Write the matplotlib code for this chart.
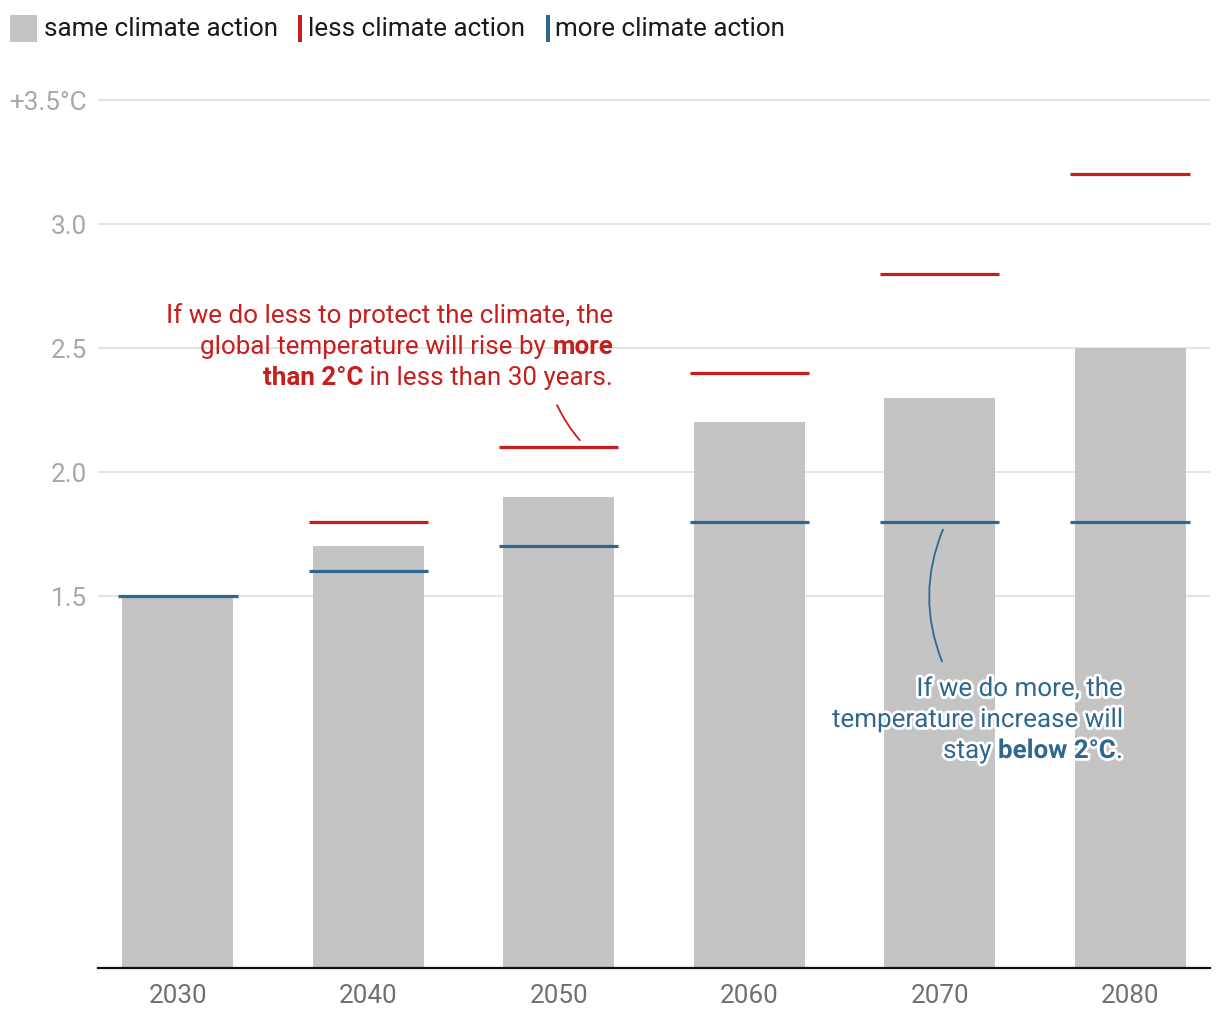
import matplotlib
matplotlib.use('Agg')
import matplotlib.pyplot as plt
import matplotlib.patheffects as pe
from matplotlib.patches import Rectangle, FancyArrowPatch
from matplotlib.transforms import IdentityTransform
import numpy as np

plt.rcParams['font.family'] = ['Roboto', 'DejaVu Sans']

years = ['2030', '2040', '2050', '2060', '2070', '2080']
same_action = [1.5, 1.7, 1.9, 2.2, 2.3, 2.5]
less_action = [np.nan, 1.8, 2.1, 2.4, 2.8, 3.2]
more_action = [1.5, 1.6, 1.7, 1.8, 1.8, 1.8]
y_ticks = [1.5, 2.0, 2.5, 3.0, 3.5]
y_tick_labels = ['1.5', '2.0', '2.5', '3.0', '+3.5°C']

GREY = '#c4c4c4'
RED = '#c71e1d'
BLUE = '#2f688f'
FS = 18.7

W, H = 1220, 1020
fig = plt.figure(figsize=(W / 100, H / 100), dpi=100)

# axes placed in pixel terms: y=0 at 969px, y=3.55 at ~89px
ax = fig.add_axes([98 / W, (H - 969) / H, (1210 - 98) / W, (969 - 88.6) / H])
x = np.arange(len(years))

ax.bar(x, same_action, width=0.583, color=GREY, zorder=2)
ax.hlines(less_action, x - 0.313, x + 0.313, color=RED, linewidth=2.3, zorder=3)
ax.hlines(more_action, x - 0.313, x + 0.313, color=BLUE, linewidth=2.3, zorder=3)

ax.set_xlim(-0.42, len(years) - 1 + 0.42)
ax.set_ylim(0, 3.55)
ax.set_xticks(x)
ax.set_xticklabels(years, fontsize=FS, color='#707070')
ax.set_yticks(y_ticks)
ax.set_yticklabels(y_tick_labels, fontsize=FS, color='#a8a8a8')
ax.tick_params(axis='both', length=0)
ax.tick_params(axis='x', pad=11)
ax.tick_params(axis='y', pad=8)
ax.yaxis.grid(True, color='#e2e2e2', linewidth=1.3, zorder=0)
ax.set_axisbelow(True)
for side in ['top', 'right', 'left']:
    ax.spines[side].set_visible(False)
ax.spines['bottom'].set_color('#111111')
ax.spines['bottom'].set_linewidth(1.6)
ax.spines['bottom'].set_zorder(4)

fig.canvas.draw()
renderer = fig.canvas.get_renderer()


def rich_line(xd, yd, pieces, color, size=FS, dy_px=0, effects=None):
    # right-aligned line made of (text, bold) pieces, anchored at data point
    px, py = ax.transData.transform((xd, yd))
    py -= dy_px
    for s, bold in reversed(pieces):
        t = fig.text(px, py, s, transform=IdentityTransform(), ha='right', va='center',
                     fontsize=size, color=color, fontweight='bold' if bold else 'normal',
                     zorder=6)
        if effects:
            t.set_path_effects(effects)
        bb = t.get_window_extent(renderer)
        px -= bb.width


# red annotation
rich_line(2.285, 2.633, [('If we do less to protect the climate, the', False)], RED)
rich_line(2.285, 2.633, [('global temperature will rise by ', False), ('more', True)], RED, dy_px=31)
rich_line(2.285, 2.633, [('than 2°C', True), (' in less than 30 years.', False)], RED, dy_px=62)
ax.add_patch(FancyArrowPatch((1.985, 2.28), (2.12, 2.12), arrowstyle='-',
                             connectionstyle='arc3,rad=0.08', color=RED,
                             linewidth=1.3, zorder=5))

# blue annotation with white halo
halo = [pe.withStroke(linewidth=4, foreground='white')]
rich_line(4.963, 1.125, [('If we do more, the', False)], BLUE, effects=halo)
rich_line(4.963, 1.125, [('temperature increase will', False)], BLUE, dy_px=31, effects=halo)
rich_line(4.963, 1.125, [('stay ', False), ('below 2°C', True), ('.', False)], BLUE,
          dy_px=62, effects=halo)
ax.add_patch(FancyArrowPatch((4.018, 1.226), (4.023, 1.778), arrowstyle='-',
                             connectionstyle='arc3,rad=-0.21', color=BLUE,
                             linewidth=1.3, zorder=5))

# legend at top
def fy(py):
    return (H - py) / H

fig.patches.append(Rectangle((10 / W, fy(43)), 27 / W, 27 / H, transform=fig.transFigure,
                             facecolor=GREY, edgecolor='none', figure=fig))
fig.patches.append(Rectangle((298 / W, fy(43)), 4 / W, 27 / H, transform=fig.transFigure,
                             facecolor=RED, edgecolor='none', figure=fig))
fig.patches.append(Rectangle((546 / W, fy(43)), 4 / W, 27 / H, transform=fig.transFigure,
                             facecolor=BLUE, edgecolor='none', figure=fig))
fig.text(44 / W, fy(29), 'same climate action', fontsize=FS, color='#1a1a1a', va='center')
fig.text(308 / W, fy(29), 'less climate action', fontsize=FS, color='#1a1a1a', va='center')
fig.text(555 / W, fy(29), 'more climate action', fontsize=FS, color='#1a1a1a', va='center')

fig.savefig('out.png', dpi=100)
